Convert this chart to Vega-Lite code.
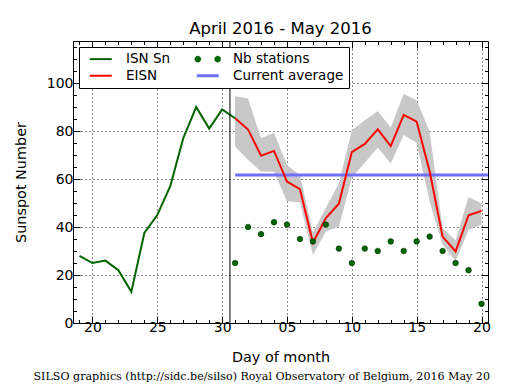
{
  "$schema": "https://vega.github.io/schema/vega-lite/v6.json",
  "width": 415,
  "height": 282,
  "autosize": {"type": "none"},
  "padding": {"left": 73, "top": 41, "right": 27, "bottom": 67},
  "background": "white",
  "title": {"text": "April 2016 - May 2016", "font": "DejaVu Sans", "fontSize": 16.5, "fontWeight": "normal", "color": "black", "anchor": "middle", "offset": 3},
  "config": {
    "font": "DejaVu Sans",
    "view": {"stroke": "black", "strokeWidth": 1},
    "legend": {"strokeColor": "black", "fillColor": "white", "padding": 5, "cornerRadius": 0, "strokeWidth": 1}
  },
  "datasets": {
    "isn": [
      {"day": 19, "value": 28, "series": "ISN Sn"},
      {"day": 20, "value": 25, "series": "ISN Sn"},
      {"day": 21, "value": 26, "series": "ISN Sn"},
      {"day": 22, "value": 22, "series": "ISN Sn"},
      {"day": 23, "value": 13, "series": "ISN Sn"},
      {"day": 24, "value": 37.5, "series": "ISN Sn"},
      {"day": 25, "value": 45, "series": "ISN Sn"},
      {"day": 26, "value": 57, "series": "ISN Sn"},
      {"day": 27, "value": 77, "series": "ISN Sn"},
      {"day": 28, "value": 90, "series": "ISN Sn"},
      {"day": 29, "value": 81, "series": "ISN Sn"},
      {"day": 30, "value": 89, "series": "ISN Sn"},
      {"day": 31, "value": 85.3, "series": "ISN Sn"}
    ],
    "eisn": [
      {"day": 31, "value": 85.3, "lo": 73.5, "hi": 94.5, "series": "EISN"},
      {"day": 32, "value": 80.6, "lo": 67.9, "hi": 93.5, "series": "EISN"},
      {"day": 33, "value": 69.7, "lo": 63.1, "hi": 77, "series": "EISN"},
      {"day": 34, "value": 71.7, "lo": 63, "hi": 79.3, "series": "EISN"},
      {"day": 35, "value": 58.9, "lo": 50.7, "hi": 65.8, "series": "EISN"},
      {"day": 36, "value": 55.8, "lo": 50.3, "hi": 61.6, "series": "EISN"},
      {"day": 37, "value": 33.5, "lo": 28.3, "hi": 37.6, "series": "EISN"},
      {"day": 38, "value": 43.7, "lo": 38.2, "hi": 48, "series": "EISN"},
      {"day": 39, "value": 49.7, "lo": 40, "hi": 58.1, "series": "EISN"},
      {"day": 40, "value": 71.2, "lo": 60.5, "hi": 80.3, "series": "EISN"},
      {"day": 41, "value": 74.6, "lo": 66.8, "hi": 84.5, "series": "EISN"},
      {"day": 42, "value": 80.7, "lo": 73.1, "hi": 88.2, "series": "EISN"},
      {"day": 43, "value": 73.7, "lo": 66.5, "hi": 81.5, "series": "EISN"},
      {"day": 44, "value": 86.7, "lo": 78.3, "hi": 95.4, "series": "EISN"},
      {"day": 45, "value": 83.9, "lo": 75.1, "hi": 92.8, "series": "EISN"},
      {"day": 46, "value": 63.2, "lo": 50.5, "hi": 79.7, "series": "EISN"},
      {"day": 47, "value": 36, "lo": 32.7, "hi": 39.6, "series": "EISN"},
      {"day": 48, "value": 29.8, "lo": 25.8, "hi": 34.4, "series": "EISN"},
      {"day": 49, "value": 44.9, "lo": 38.7, "hi": 52.5, "series": "EISN"},
      {"day": 50, "value": 46.7, "lo": 41, "hi": 49.9, "series": "EISN"}
    ],
    "stations": [
      {"day": 31, "value": 25, "series": "Nb stations"},
      {"day": 32, "value": 40, "series": "Nb stations"},
      {"day": 33, "value": 37, "series": "Nb stations"},
      {"day": 34, "value": 42, "series": "Nb stations"},
      {"day": 35, "value": 41, "series": "Nb stations"},
      {"day": 36, "value": 35, "series": "Nb stations"},
      {"day": 37, "value": 34, "series": "Nb stations"},
      {"day": 38, "value": 41, "series": "Nb stations"},
      {"day": 39, "value": 31, "series": "Nb stations"},
      {"day": 40, "value": 25, "series": "Nb stations"},
      {"day": 41, "value": 31, "series": "Nb stations"},
      {"day": 42, "value": 30, "series": "Nb stations"},
      {"day": 43, "value": 34, "series": "Nb stations"},
      {"day": 44, "value": 30, "series": "Nb stations"},
      {"day": 45, "value": 34, "series": "Nb stations"},
      {"day": 46, "value": 36, "series": "Nb stations"},
      {"day": 47, "value": 30, "series": "Nb stations"},
      {"day": 48, "value": 25, "series": "Nb stations"},
      {"day": 49, "value": 22, "series": "Nb stations"},
      {"day": 50, "value": 8, "series": "Nb stations"}
    ],
    "avg": [
      {"day": 31, "value": 61.7, "series": "Current average"},
      {"day": 50.5, "value": 61.7, "series": "Current average"}
    ],
    "vline": [{"day": 30.6}]
  },
  "layer": [
    {
      "data": {"name": "eisn"},
      "mark": {"type": "area", "color": "#c8c8c8", "opacity": 1},
      "encoding": {
        "x": {
          "field": "day", "type": "quantitative",
          "scale": {"domain": [18.5, 50.5], "nice": false, "zero": false},
          "axis": {
            "orient": "bottom",
            "values": [19,20,21,22,23,24,25,26,27,28,29,30,31,32,33,34,35,36,37,38,39,40,41,42,43,44,45,46,47,48,49,50],
            "title": "Day of month", "titleFont": "DejaVu Sans", "titleFontSize": 14.4, "titleFontWeight": "normal", "titleColor": "black", "titlePadding": 13,
            "labelExpr": "datum.value % 5 != 0 ? '' : (datum.value <= 30 ? format(datum.value, 'd') : (datum.value < 40 ? '0' + format(datum.value - 30, 'd') : format(datum.value - 30, 'd')))",
            "labelFont": "DejaVu Sans", "labelFontSize": 14, "labelColor": "black", "labelOverlap": false, "labelFlush": false, "labelPadding": 4,
            "domain": false,
            "ticks": true, "tickColor": "black", "tickWidth": 1,
            "tickSize": {"condition": {"test": "datum.value % 5 == 0", "value": -7}, "value": -3.5},
            "grid": true, "gridColor": "black", "gridWidth": 1, "gridDash": [1, 3],
            "gridOpacity": {"condition": {"test": "datum.value % 5 == 0", "value": 0.9}, "value": 0}
          }
        },
        "y": {
          "field": "lo", "type": "quantitative",
          "scale": {"domain": [0, 117.5], "nice": false, "zero": false},
          "axis": {
            "orient": "left",
            "values": [0,5,10,15,20,25,30,35,40,45,50,55,60,65,70,75,80,85,90,95,100,105,110,115],
            "title": "Sunspot Number", "titleFont": "DejaVu Sans", "titleFontSize": 14.4, "titleFontWeight": "normal", "titleColor": "black", "titlePadding": 18,
            "labelExpr": "datum.value % 20 == 0 ? format(datum.value, 'd') : ''",
            "labelFont": "DejaVu Sans", "labelFontSize": 14, "labelColor": "black", "labelOverlap": false, "labelFlush": false, "labelPadding": 7,
            "domain": false,
            "ticks": true, "tickColor": "black", "tickWidth": 1,
            "tickSize": {"condition": {"test": "datum.value % 20 == 0", "value": -7}, "value": -3.5},
            "grid": true, "gridColor": "black", "gridWidth": 1, "gridDash": [1, 3],
            "gridOpacity": {"condition": {"test": "datum.value % 20 == 0 && datum.value > 0", "value": 0.9}, "value": 0}
          }
        },
        "y2": {"field": "hi"}
      }
    },
    {
      "data": {"name": "avg"},
      "mark": {"type": "line", "strokeWidth": 3, "clip": true},
      "encoding": {
        "x": {"field": "day", "type": "quantitative", "axis": null},
        "y": {"field": "value", "type": "quantitative", "axis": null},
        "color": {
          "field": "series", "type": "nominal",
          "scale": {"domain": ["ISN Sn", "EISN", "Nb stations", "Current average"], "range": ["#006400", "#ff0000", "#006400", "#7070ff"]},
          "legend": {
            "title": null, "orient": "top-left", "offset": 6, "columns": 2, "columnPadding": 19, "rowPadding": 2, "zindex": 5,
            "strokeColor": "black", "fillColor": "white", "padding": 5, "cornerRadius": 0,
            "symbolType": "stroke", "symbolSize": 121, "symbolStrokeWidth": 2, "symbolOffset": 10,
            "labelFont": "DejaVu Sans", "labelFontSize": 13.5, "labelColor": "black", "labelOffset": 18.5, "labelLimit": 300,
            "encode": {
              "legend": {"update": {"stroke": {"value": "black"}, "fill": {"value": "white"}, "strokeWidth": {"value": 1}}},
              "symbols": {
                "update": {
                  "shape": {"signal": "datum.value === 'Nb stations' ? 'M-2.35,0a0.55,0.55 0 1,0 1.1,0a0.55,0.55 0 1,0 -1.1,0ZM1.25,0a0.55,0.55 0 1,0 1.1,0a0.55,0.55 0 1,0 -1.1,0Z' : 'M-2,0L2,0'"},
                  "fill": {"signal": "datum.value === 'Nb stations' ? '#006400' : 'transparent'"},
                  "stroke": {"signal": "datum.value === 'Nb stations' ? '#002800' : (datum.value === 'ISN Sn' ? '#006400' : (datum.value === 'EISN' ? '#ff0000' : '#7070ff'))"},
                  "strokeWidth": {"signal": "datum.value === 'Nb stations' ? 0.5 : (datum.value === 'Current average' ? 3 : 2)"},
                  "opacity": {"value": 1}
                }
              }
            }
          }
        }
      }
    },
    {
      "data": {"name": "isn"},
      "mark": {"type": "line", "strokeWidth": 2},
      "encoding": {
        "x": {
          "field": "day", "type": "quantitative",
          "axis": {
            "orient": "bottom", "labels": false, "ticks": false, "domain": false, "grid": false,
            "title": "SILSO graphics (http://sidc.be/silso) Royal Observatory of Belgium, 2016 May 20",
            "titleFont": "DejaVu Serif", "titleFontSize": 11.1, "titleFontWeight": "normal", "titleColor": "black",
            "titlePadding": 47, "titleX": -40, "titleAlign": "left", "titleAnchor": "start"
          }
        },
        "y": {"field": "value", "type": "quantitative", "axis": null},
        "color": {"field": "series", "type": "nominal"}
      }
    },
    {
      "data": {"name": "eisn"},
      "mark": {"type": "line", "strokeWidth": 2},
      "encoding": {
        "x": {
          "field": "day", "type": "quantitative",
          "axis": {
            "orient": "top", "labels": false, "domain": false, "grid": false, "title": null,
            "values": [19,20,21,22,23,24,25,26,27,28,29,30,31,32,33,34,35,36,37,38,39,40,41,42,43,44,45,46,47,48,49,50],
            "ticks": true, "tickColor": "black", "tickWidth": 1,
            "tickSize": {"condition": {"test": "datum.value % 5 == 0", "value": -7}, "value": -3.5}
          }
        },
        "y": {
          "field": "value", "type": "quantitative",
          "axis": {
            "orient": "right", "labels": false, "domain": false, "grid": false, "title": null,
            "values": [0,5,10,15,20,25,30,35,40,45,50,55,60,65,70,75,80,85,90,95,100,105,110,115],
            "ticks": true, "tickColor": "black", "tickWidth": 1,
            "tickSize": {"condition": {"test": "datum.value % 20 == 0", "value": -7}, "value": -3.5}
          }
        },
        "color": {"field": "series", "type": "nominal"}
      }
    },
    {
      "data": {"name": "stations"},
      "mark": {"type": "point", "filled": true, "size": 32, "stroke": "#002800", "strokeWidth": 0.5, "opacity": 1},
      "encoding": {
        "x": {"field": "day", "type": "quantitative", "axis": null},
        "y": {"field": "value", "type": "quantitative", "axis": null},
        "color": {"field": "series", "type": "nominal"}
      }
    },
    {
      "data": {"name": "vline"},
      "mark": {"type": "rule", "color": "black", "strokeWidth": 1},
      "encoding": {
        "x": {"field": "day", "type": "quantitative", "axis": null}
      }
    }
  ],
  "resolve": {"axis": {"x": "independent", "y": "independent"}}
}
